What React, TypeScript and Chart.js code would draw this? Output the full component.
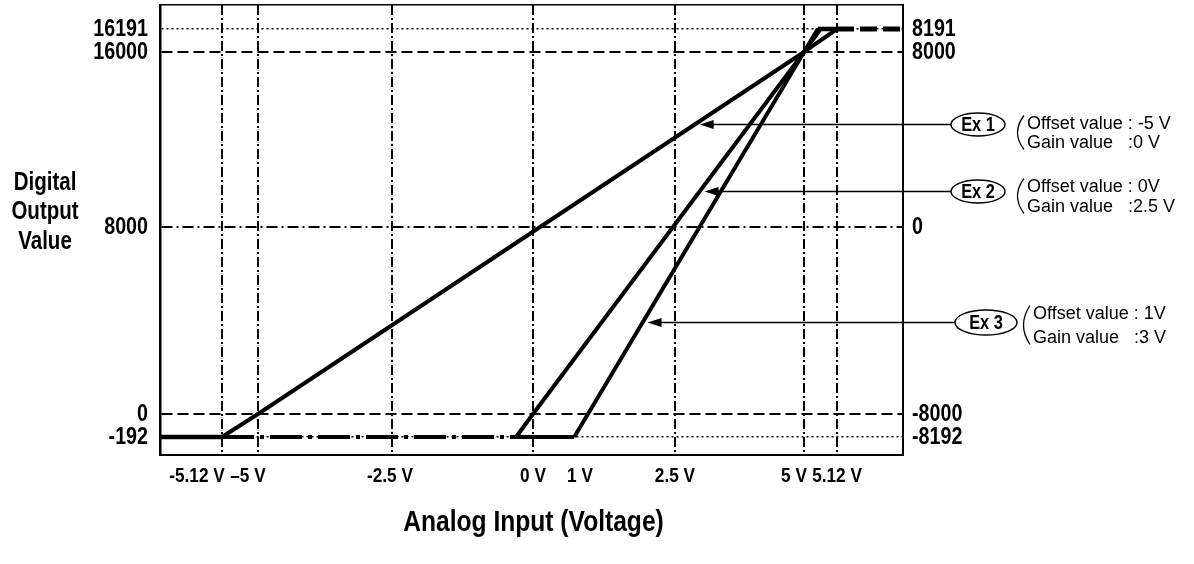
import React, { useEffect, useRef } from 'react';
import { Chart, LinearScale, registerables } from 'chart.js';

// ---------- data ----------
const X_TICKS = [-5.12, -5, -2.5, 0, 1, 2.5, 5, 5.12];
const X_LABELS = ['-5.12 V', '–5 V', '-2.5 V', '0 V', '1 V', '2.5 V', '5 V', '5.12 V'];
const Y_TICKS = [-192, 0, 8000, 16000, 16191];
const Y_LABELS_LEFT = ['-192', '0', '8000', '16000', '16191'];
const Y_LABELS_RIGHT = ['-8192', '-8000', '0', '8000', '8191'];

const FLOOR = -192;
const CEIL = 16191;

const EX1_V = [-5.12, -5, 5, 5.12];
const EX1_OUT = [-192, 0, 16000, 16191];
const EX2_V = [-0.3, 0, 5, 5.06];
const EX2_OUT = [-192, 0, 16000, 16191];
const EX3_V = [0.75, 1, 5, 5.05];
const EX3_OUT = [-192, 0, 16000, 16191];

const X_MIN = -6.8;
const X_MAX = 6.8;
const Y_MIN = -350;
const Y_MAX = 16390;

const LOW_SOLID_V = [X_MIN, -5.12];
const LOW_DASHDOT_V = [-5.12, -0.3];
const LOW_SOLID2_V = [-0.3, 0.75];
const HIGH_SOLID_V = [5.05, 5.12];
const HIGH_DASH_V = [5.12, X_MAX];

const CALLOUT_NAMES = ['Ex 1', 'Ex 2', 'Ex 3'];
const CALLOUT_OFFSET = ['Offset value : -5 V', 'Offset value : 0V', 'Offset value : 1V'];
const CALLOUT_GAIN = ['Gain value   :0 V', 'Gain value   :2.5 V', 'Gain value   :3 V'];
const CALLOUT_LEVEL = [12700, 9650, 3950];

const Y_TITLE = ['Digital', 'Output', 'Value'];
const X_TITLE = 'Analog Input (Voltage)';

// ---------- schematic (non-uniform) axis layout ----------
const X_AXIS_STOPS = [X_MIN, -5.12, -5, -2.5, 0, 1, 2.5, 5, 5.12, X_MAX];
const X_AXIS_FRACS = [0, 0.0834, 0.1319, 0.3122, 0.502, 0.576, 0.6931, 0.8668, 0.9112, 1];
const Y_AXIS_STOPS = [Y_MIN, -192, 0, 8000, 16000, 16191, Y_MAX];
const Y_AXIS_FRACS = [0, 0.04, 0.0911, 0.5067, 0.8956, 0.9467, 1];

const SCALE_MAPS: Record<string, { stops: number[]; fracs: number[] }> = {
  volts: { stops: X_AXIS_STOPS, fracs: X_AXIS_FRACS },
  counts: { stops: Y_AXIS_STOPS, fracs: Y_AXIS_FRACS },
};

// label nudges (px to the left) for crowded x tick labels
const X_LABEL_SHIFT = [25, 10, 2, 0, 8, 0, 10, 0];

const NARROW_X = 0.82; // horizontal squeeze to mimic a condensed face
const BOLD = '"Liberation Sans", Arial, sans-serif';
const SANS = '"Liberation Sans", Arial, sans-serif';

function interp(v: number, xs: number[], ys: number[]) {
  const n = xs.length;
  let i = 1;
  while (i < n - 1 && v > xs[i]) i++;
  const t = (v - xs[i - 1]) / (xs[i] - xs[i - 1]);
  return ys[i - 1] + t * (ys[i] - ys[i - 1]);
}

class SchematicScale extends LinearScale {
  static id = 'schematic';
  static defaults = {};
  getPixelForValue(value: any) {
    if (value === null || value === undefined || isNaN(value)) return NaN;
    const m = SCALE_MAPS[(this.options as any).stopsKey];
    return this.getPixelForDecimal(interp(+value, m.stops, m.fracs));
  }
  getValueForPixel(pixel: number) {
    const m = SCALE_MAPS[(this.options as any).stopsKey];
    return interp(this.getDecimalForPixel(pixel), m.fracs, m.stops);
  }
  drawLabels(chartArea: any) {
    const opts: any = this.options;
    if (!opts.ticks.display) return;
    const ctx: CanvasRenderingContext2D = (this as any).ctx;
    const items: any[] = (this as any).getLabelItems(chartArea);
    const horizontal = this.isHorizontal();
    items.forEach((item, idx) => {
      const o = item.options;
      const shift = horizontal ? X_LABEL_SHIFT[idx] || 0 : 0;
      ctx.save();
      ctx.translate(o.translation[0] - shift, o.translation[1]);
      ctx.scale(NARROW_X, 1);
      ctx.font = item.font.string;
      ctx.fillStyle = o.color;
      ctx.textAlign = o.textAlign;
      ctx.textBaseline = o.textBaseline;
      ctx.fillText(String(item.label), 0, item.textOffset);
      ctx.restore();
    });
  }
}

Chart.register(...registerables, SchematicScale as any);

const CALLOUT_STYLE = [
  { cx: 978, rx: 27, ry: 11.5, textX: 1027, dy1: 0, dy2: 19 },
  { cx: 978, rx: 27, ry: 11.5, textX: 1027, dy1: -4, dy2: 16 },
  { cx: 986, rx: 31, ry: 12.5, textX: 1033, dy1: -8, dy2: 16 },
];

const pts = (xs: number[], ys: number[]) => xs.map((x, i) => ({ x, y: ys[i] }));
const flat = (xs: number[], y: number) => xs.map((x) => ({ x, y }));

function narrowText(ctx: CanvasRenderingContext2D, text: string, x: number, y: number, font: string) {
  ctx.save();
  ctx.translate(x, y);
  ctx.scale(NARROW_X, 1);
  ctx.font = font;
  ctx.fillStyle = '#000';
  ctx.textAlign = 'center';
  ctx.textBaseline = 'middle';
  ctx.fillText(text, 0, 0);
  ctx.restore();
}

const calloutPlugin = {
  id: 'callouts',
  afterDatasetsDraw(chart: any) {
    const ctx: CanvasRenderingContext2D = chart.ctx;
    const yScale = chart.scales.y;
    CALLOUT_LEVEL.forEach((level, i) => {
      const py = Math.round(yScale.getPixelForValue(level)) + 0.5;
      const els = chart.getDatasetMeta(i).data;
      let lx = NaN;
      for (let k = 1; k < els.length; k++) {
        const a = els[k - 1];
        const b = els[k];
        if ((a.y - py) * (b.y - py) <= 0 && a.y !== b.y) {
          lx = a.x + ((py - a.y) * (b.x - a.x)) / (b.y - a.y);
          break;
        }
      }
      const tip = lx + 5;
      const st = CALLOUT_STYLE[i];
      ctx.save();
      ctx.strokeStyle = '#000';
      ctx.fillStyle = '#000';
      ctx.lineWidth = 1.5;
      ctx.beginPath();
      ctx.moveTo(st.cx - st.rx, py);
      ctx.lineTo(tip + 10, py);
      ctx.stroke();
      ctx.beginPath();
      ctx.moveTo(tip, py);
      ctx.lineTo(tip + 14, py - 4.5);
      ctx.lineTo(tip + 14, py + 4.5);
      ctx.closePath();
      ctx.fill();
      ctx.beginPath();
      ctx.ellipse(st.cx, py, st.rx, st.ry, 0, 0, Math.PI * 2);
      ctx.fillStyle = '#fff';
      ctx.fill();
      ctx.stroke();
      narrowText(ctx, CALLOUT_NAMES[i], st.cx, py + 1, `bold 20px ${BOLD}`);
      // bracket
      const top = py + st.dy1 - 9;
      const bot = py + st.dy2 + 6;
      ctx.lineWidth = 1.3;
      ctx.beginPath();
      ctx.moveTo(st.textX - 3, top);
      ctx.quadraticCurveTo(st.textX - 16, (top + bot) / 2, st.textX - 3, bot);
      ctx.stroke();
      ctx.fillStyle = '#000';
      ctx.font = `18px ${SANS}`;
      ctx.textAlign = 'left';
      ctx.textBaseline = 'middle';
      ctx.fillText(CALLOUT_OFFSET[i], st.textX, py + st.dy1);
      ctx.fillText(CALLOUT_GAIN[i], st.textX, py + st.dy2);
      ctx.restore();
    });
  },
};

const titlesPlugin = {
  id: 'titles',
  afterDraw(chart: any) {
    const ctx: CanvasRenderingContext2D = chart.ctx;
    Y_TITLE.forEach((t, i) => narrowText(ctx, t, 45, 183 + i * 29.5, `bold 25px ${BOLD}`));
    const area = chart.chartArea;
    narrowText(ctx, X_TITLE, (area.left + area.right) / 2 + 2, 523, `bold 30px ${BOLD}`);
  },
};

const yDash = (v: number) => {
  if (v === -192 || v === 16191) return [2, 3];
  if (v === 8000) return [11, 4, 2, 4];
  return [11, 5];
};

export default function App() {
  const ref = useRef<HTMLCanvasElement>(null);
  useEffect(() => {
    if (!ref.current) return;
    const line = (data: any[], width: number, dash: number[] = []) => ({
      data,
      borderColor: '#000',
      borderWidth: width,
      borderDash: dash,
      pointRadius: 0,
      tension: 0,
      fill: false,
      borderCapStyle: 'butt',
      borderJoinStyle: 'round',
      xAxisID: 'x',
      yAxisID: 'y',
    });
    const chart = new Chart(ref.current, {
      type: 'line',
      data: {
        datasets: [
          line(pts(EX1_V, EX1_OUT), 4),
          line(pts(EX2_V, EX2_OUT), 4),
          line(pts(EX3_V, EX3_OUT), 4),
          line(flat(LOW_SOLID_V, FLOOR), 4.5),
          line(flat(LOW_DASHDOT_V, FLOOR), 4, [32, 6, 4, 6]),
          line(flat(LOW_SOLID2_V, FLOOR), 4),
          line(flat(HIGH_SOLID_V, CEIL), 4.5),
          line(flat(HIGH_DASH_V, CEIL), 5, [17, 6]),
        ] as any,
      },
      options: {
        animation: false,
        responsive: false,
        devicePixelRatio: 1,
        events: [],
        layout: { padding: { top: 5, left: 0, right: 0, bottom: 0 } },
        plugins: { legend: { display: false }, tooltip: { enabled: false }, title: { display: false } },
        scales: {
          x: {
            type: 'schematic' as any,
            stopsKey: 'volts',
            position: 'bottom',
            min: X_MIN,
            max: X_MAX,
            bounds: 'data',
            afterBuildTicks: (s: any) => {
              s.ticks = X_TICKS.map((value) => ({ value }));
            },
            afterFit: (s: any) => {
              s.height = 109;
              s.paddingLeft = 0;
              s.paddingRight = 0;
            },
            ticks: {
              autoSkip: false,
              maxRotation: 0,
              minRotation: 0,
              padding: 9,
              color: '#000',
              font: { family: BOLD, size: 21, weight: 'bold' },
              callback: (v: any) => {
                const i = X_TICKS.indexOf(+v);
                return i >= 0 ? X_LABELS[i] : '';
              },
            },
            grid: {
              drawTicks: false,
              color: '#000',
              lineWidth: (c: any) => (c.tick && c.tick.value === 1 ? 0 : 2),
            },
            border: {
              display: true,
              color: '#000',
              width: 2,
              dash: (c: any) => (c.tick ? [10, 3, 2, 3] : []),
            },
          } as any,
          x2: {
            type: 'linear',
            position: 'top',
            min: 0,
            max: 1,
            ticks: { display: false },
            grid: { display: false, drawTicks: false },
            border: { display: true, color: '#000', width: 1.5 },
            afterFit: (s: any) => {
              s.height = 0;
              s.paddingLeft = 0;
              s.paddingRight = 0;
            },
          } as any,
          y: {
            type: 'schematic' as any,
            stopsKey: 'counts',
            position: 'left',
            min: Y_MIN,
            max: Y_MAX,
            bounds: 'data',
            afterBuildTicks: (s: any) => {
              s.ticks = Y_TICKS.map((value) => ({ value }));
            },
            afterFit: (s: any) => {
              s.width = 160;
              s.paddingTop = 0;
              s.paddingBottom = 0;
            },
            ticks: {
              autoSkip: false,
              padding: 12,
              color: '#000',
              font: { family: BOLD, size: 24, weight: 'bold' },
              callback: (v: any) => {
                const i = Y_TICKS.indexOf(+v);
                return i >= 0 ? Y_LABELS_LEFT[i] : '';
              },
            },
            grid: {
              drawTicks: false,
              color: '#000',
              lineWidth: (c: any) => (c.tick && (c.tick.value === -192 || c.tick.value === 16191) ? 1.5 : 2),
            },
            border: {
              display: true,
              color: '#000',
              width: 2.5,
              dash: (c: any) => (c.tick ? yDash(c.tick.value) : []),
            },
          } as any,
          yR: {
            type: 'schematic' as any,
            stopsKey: 'counts',
            position: 'right',
            min: Y_MIN,
            max: Y_MAX,
            bounds: 'data',
            afterBuildTicks: (s: any) => {
              s.ticks = Y_TICKS.map((value) => ({ value }));
            },
            afterFit: (s: any) => {
              s.width = 291;
              s.paddingTop = 0;
              s.paddingBottom = 0;
            },
            ticks: {
              autoSkip: false,
              padding: 9,
              color: '#000',
              font: { family: BOLD, size: 24, weight: 'bold' },
              callback: (v: any) => {
                const i = Y_TICKS.indexOf(+v);
                return i >= 0 ? Y_LABELS_RIGHT[i] : '';
              },
            },
            grid: { display: false, drawTicks: false },
            border: { display: true, color: '#000', width: 2 },
          } as any,
        },
      },
      plugins: [calloutPlugin, titlesPlugin],
    } as any);
    return () => chart.destroy();
  }, []);
  return (
    <div style={{ position: 'absolute', left: 0, top: 0, width: 1194, height: 564, background: '#fff' }}>
      <canvas ref={ref} width={1194} height={564} style={{ display: 'block' }} />
    </div>
  );
}
